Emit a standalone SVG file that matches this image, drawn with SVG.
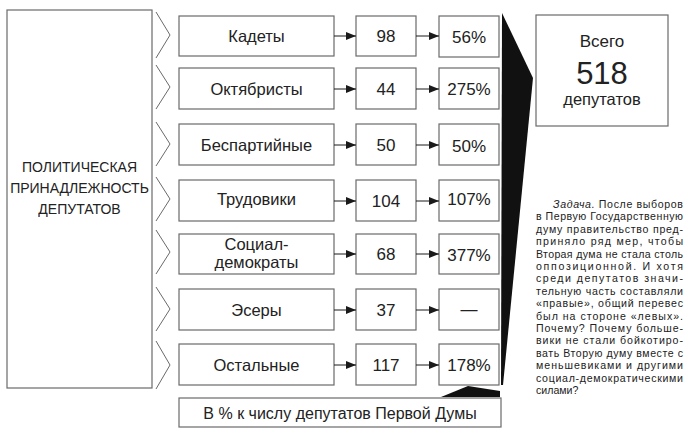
<svg xmlns="http://www.w3.org/2000/svg" width="700" height="434" viewBox="0 0 700 434">
<defs>
<marker id="ah" viewBox="0 0 10 8" refX="10" refY="4" markerWidth="10" markerHeight="8" markerUnits="userSpaceOnUse" orient="auto">
<path d="M0,0 L10,4 L0,8 Z" fill="#1a1a1a"/>
</marker>
<style>
.box{fill:#fff;stroke:#6a6a6a;stroke-width:1.2}
.chev{fill:none;stroke:#6a6a6a;stroke-width:1}
.con{fill:none;stroke:#1a1a1a;stroke-width:1}
text{font-family:"Liberation Sans",Arial,sans-serif;fill:#222}
.t{font-size:16.5px;text-anchor:middle}
.n{font-size:17px;text-anchor:middle}
.p{font-size:10.6px}
</style>
</defs>
<rect width="700" height="434" fill="#fff"/>

<g id="main">
<rect class="box" x="7" y="10" width="145" height="378"/>
<text font-size="14" text-anchor="middle"><tspan x="79.5" y="172">ПОЛИТИЧЕСКАЯ</tspan><tspan x="79.5" y="193">ПРИНАДЛЕЖНОСТЬ</tspan><tspan x="79.5" y="214">ДЕПУТАТОВ</tspan></text>
</g>

<g id="chevrons">
<polyline class="chev" points="156,12 170,35 156,58"/>
<polyline class="chev" points="156,65 170,87 156,109"/>
<polyline class="chev" points="156,122 170,144 156,166"/>
<polyline class="chev" points="156,177 170,199 156,221"/>
<polyline class="chev" points="156,230 170,252 156,274"/>
<polyline class="chev" points="156,287 170,309 156,331"/>
<polyline class="chev" points="156,341 170,365 156,389"/>
</g>

<g id="row1">
<rect class="box" x="179" y="16" width="155" height="40"/><text class="t" x="256.5" y="42">Кадеты</text>
<rect class="box" x="356" y="16" width="60" height="40"/><text class="n" x="386" y="42">98</text>
<rect class="box" x="439" y="16" width="60" height="41"/><text class="n" x="469" y="43">56%</text>
</g>
<g id="row2">
<rect class="box" x="179" y="68" width="155" height="41"/><text class="t" x="256.5" y="95">Октябристы</text>
<rect class="box" x="356" y="68" width="60" height="41"/><text class="n" x="386" y="95">44</text>
<rect class="box" x="439" y="68" width="60" height="41"/><text class="n" x="469" y="95">275%</text>
</g>
<g id="row3">
<rect class="box" x="179" y="124" width="155" height="41"/><text class="t" x="256.5" y="151">Беспартийные</text>
<rect class="box" x="356" y="124" width="60" height="41"/><text class="n" x="386" y="151">50</text>
<rect class="box" x="439" y="124" width="60" height="41"/><text class="n" x="469" y="152">50%</text>
</g>
<g id="row4">
<rect class="box" x="179" y="180" width="155" height="41"/><text class="t" x="256.5" y="205">Трудовики</text>
<rect class="box" x="356" y="180" width="60" height="41"/><text class="n" x="386" y="207">104</text>
<rect class="box" x="439" y="180" width="60" height="41"/><text class="n" x="469" y="205">107%</text>
</g>
<g id="row5">
<rect class="box" x="179" y="234" width="155" height="40"/><text class="t"><tspan x="256.5" y="250">Социал-</tspan><tspan x="256.5" y="268">демократы</tspan></text>
<rect class="box" x="356" y="234" width="60" height="40"/><text class="n" x="386" y="260">68</text>
<rect class="box" x="439" y="234" width="60" height="40"/><text class="n" x="469" y="261">377%</text>
</g>
<g id="row6">
<rect class="box" x="179" y="289" width="155" height="41"/><text class="t" x="256.5" y="316">Эсеры</text>
<rect class="box" x="356" y="289" width="60" height="41"/><text class="n" x="386" y="316">37</text>
<rect class="box" x="439" y="289" width="60" height="41"/><text class="n" x="469" y="315">—</text>
</g>
<g id="row7">
<rect class="box" x="179" y="344" width="155" height="41"/><text class="t" x="256.5" y="371">Остальные</text>
<rect class="box" x="356" y="344" width="60" height="41"/><text class="n" x="386" y="371">117</text>
<rect class="box" x="439" y="344" width="60" height="41"/><text class="n" x="469" y="371">178%</text>
</g>

<g id="connectors">
<line class="con" x1="334" y1="36" x2="356" y2="36" marker-end="url(#ah)"/>
<line class="con" x1="416" y1="36" x2="439" y2="36" marker-end="url(#ah)"/>
<line class="con" x1="334" y1="89" x2="356" y2="89" marker-end="url(#ah)"/>
<line class="con" x1="416" y1="89" x2="439" y2="89" marker-end="url(#ah)"/>
<line class="con" x1="334" y1="145" x2="356" y2="145" marker-end="url(#ah)"/>
<line class="con" x1="416" y1="145" x2="439" y2="145" marker-end="url(#ah)"/>
<line class="con" x1="334" y1="201" x2="356" y2="201" marker-end="url(#ah)"/>
<line class="con" x1="416" y1="201" x2="439" y2="201" marker-end="url(#ah)"/>
<line class="con" x1="334" y1="254" x2="356" y2="254" marker-end="url(#ah)"/>
<line class="con" x1="416" y1="254" x2="439" y2="254" marker-end="url(#ah)"/>
<line class="con" x1="334" y1="310" x2="356" y2="310" marker-end="url(#ah)"/>
<line class="con" x1="416" y1="310" x2="439" y2="310" marker-end="url(#ah)"/>
<line class="con" x1="334" y1="365" x2="356" y2="365" marker-end="url(#ah)"/>
<line class="con" x1="416" y1="365" x2="439" y2="365" marker-end="url(#ah)"/>
<polygon points="502,13 533,78 503,385 501,385" fill="#111"/>
<polygon points="441,397 468,386 500,391 500,397" fill="#111"/>
</g>

<g id="footer">
<rect class="box" x="179" y="398" width="322" height="29"/>
<text x="340" y="419" font-size="16" text-anchor="middle">В % к числу депутатов Первой Думы</text>
</g>

<g id="total">
<rect class="box" x="536" y="15" width="132" height="111"/>
<text x="602" y="47" font-size="17" text-anchor="middle">Всего</text>
<text font-size="31" text-anchor="middle" x="602" y="84">518</text>
<text x="602" y="105" font-size="16.5" text-anchor="middle">депутатов</text>
</g>

<g id="task">
<text class="p" x="553" y="208" textLength="130" lengthAdjust="spacing"><tspan font-style="italic">Задача.</tspan> После выборов</text>
<text class="p" x="536" y="220.4" textLength="147" lengthAdjust="spacing">в Первую Государственную</text>
<text class="p" x="536" y="232.8" textLength="147" lengthAdjust="spacing">думу правительство пред-</text>
<text class="p" x="536" y="245.2" textLength="147" lengthAdjust="spacing">приняло ряд мер, чтобы</text>
<text class="p" x="536" y="257.6" textLength="147" lengthAdjust="spacing">Вторая дума не стала столь</text>
<text class="p" x="536" y="270" textLength="147" lengthAdjust="spacing">оппозиционной. И хотя</text>
<text class="p" x="536" y="282.4" textLength="147" lengthAdjust="spacing">среди депутатов значи-</text>
<text class="p" x="536" y="294.8" textLength="147" lengthAdjust="spacing">тельную часть составляли</text>
<text class="p" x="536" y="307.2" textLength="147" lengthAdjust="spacing">«правые», общий перевес</text>
<text class="p" x="536" y="319.6" textLength="147" lengthAdjust="spacing">был на стороне «левых».</text>
<text class="p" x="536" y="332" textLength="147" lengthAdjust="spacing">Почему? Почему больше-</text>
<text class="p" x="536" y="344.4" textLength="147" lengthAdjust="spacing">вики не стали бойкотиро-</text>
<text class="p" x="536" y="356.8" textLength="147" lengthAdjust="spacing">вать Вторую думу вместе с</text>
<text class="p" x="536" y="369.2" textLength="147" lengthAdjust="spacing">меньшевиками и другими</text>
<text class="p" x="536" y="381.6" textLength="147" lengthAdjust="spacing">социал-демократическими</text>
<text class="p" x="536" y="394">силами?</text>
</g>
</svg>
